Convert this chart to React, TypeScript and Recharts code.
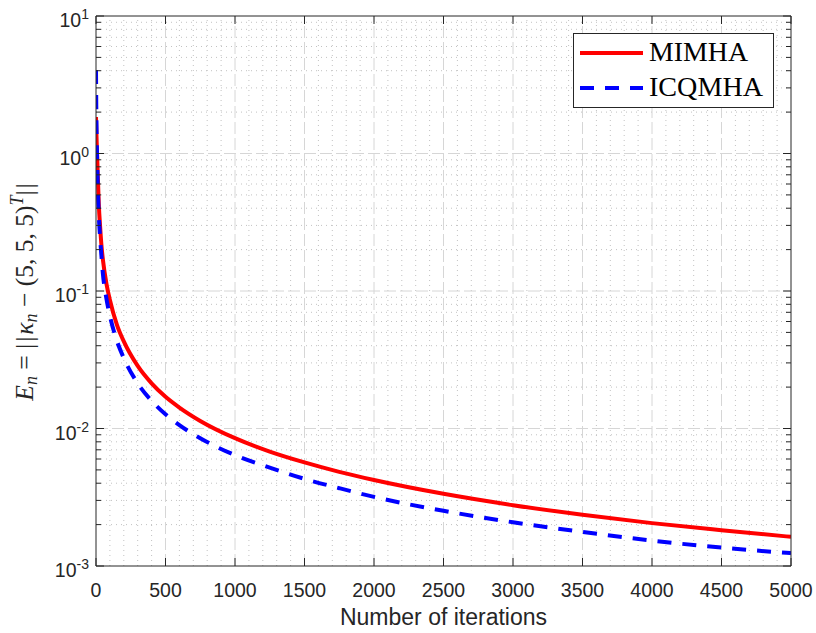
import React from 'react';
import { LineChart, Line, XAxis, YAxis, ReferenceLine, Legend, Label } from 'recharts';

// ---- data ----
const iterations = [0, 1, 2, 5, 10, 20, 30, 40, 50, 75, 100, 150, 200, 300, 400, 500, 600, 750, 1000, 1250, 1500, 1750, 2000, 2500, 3000, 3500, 4000, 4500, 5000];
const mimha = [1.84, 1.65, 1.5, 1.2, 0.85, 0.43, 0.29, 0.21, 0.168, 0.113, 0.086, 0.057, 0.043, 0.0285, 0.0213, 0.017, 0.0142, 0.01135, 0.0085, 0.0068, 0.00567, 0.00484, 0.00422, 0.00335, 0.00277, 0.00236, 0.00205, 0.00182, 0.00163];
const icqmha = [4.05, 2.9, 2.2, 1.3, 0.75, 0.36, 0.24, 0.175, 0.132, 0.088, 0.066, 0.0435, 0.0325, 0.0213, 0.0159, 0.0127, 0.0106, 0.0085, 0.0064, 0.0052, 0.0043, 0.00368, 0.00318, 0.00252, 0.00208, 0.00177, 0.00153, 0.00136, 0.00124];

const xTicks = [0, 500, 1000, 1500, 2000, 2500, 3000, 3500, 4000, 4500, 5000];
const yMajorTicks = [0.001, 0.01, 0.1, 1, 10];
const yMantissas = [2, 3, 4, 5, 6, 7, 8, 9];
const xMinorStep = 100;

const seriesNames = ['MIMHA', 'ICQMHA'];
const seriesKeys = ['mimha', 'icqmha'];
const seriesColors = ['#ff0000', '#0000ff'];
const seriesDash = [undefined, '14 11'];

// ---- derived tables ----
const data = iterations.map((it, i) => ({ it, mimha: mimha[i], icqmha: icqmha[i] }));
const yMinorTicks = yMajorTicks.slice(0, -1).flatMap((d) => yMantissas.map((m) => +(m * d).toPrecision(3)));
const yAllTicks = [...yMajorTicks, ...yMinorTicks].sort((a, b) => a - b);
const xMinorTicks = Array.from({ length: 5000 / xMinorStep + 1 }, (_, i) => i * xMinorStep).filter((v) => v % 500 !== 0);
const xMajorInner = xTicks.slice(1, -1);
const yMajorInner = yMajorTicks.slice(1, -1);

const AXIS = '#262626';
const SANS = "'Liberation Sans', Arial, Helvetica, sans-serif";
const SERIF = "'Liberation Serif', 'Times New Roman', serif";

const isMajor = (v: number) => {
  const l = Math.log10(v);
  return Math.abs(l - Math.round(l)) < 1e-6;
};

const LeftTick = (props: any) => {
  const { x, y, payload } = props;
  const v = payload.value;
  const major = isMajor(v);
  const exp = Math.round(Math.log10(v));
  return (
    <g>
      <line x1={x} x2={x + (major ? 8 : 5)} y1={y} y2={y} stroke={AXIS} strokeWidth={1} />
      {major && (
        <text x={x - 7} y={y + 11} textAnchor="end" fontFamily={SANS} fontSize={19.5} fill={AXIS}>
          10
          <tspan dy={-8} fontSize={14}>{exp}</tspan>
        </text>
      )}
    </g>
  );
};

const RightTick = (props: any) => {
  const { x, y, payload } = props;
  const major = isMajor(payload.value);
  return <line x1={x} x2={x - (major ? 8 : 5)} y1={y} y2={y} stroke={AXIS} strokeWidth={1} />;
};

const BottomTick = (props: any) => {
  const { x, y, payload } = props;
  return (
    <g>
      <line x1={x} x2={x} y1={y} y2={y - 8} stroke={AXIS} strokeWidth={1} />
      <text x={x} y={y + 31} textAnchor="middle" fontFamily={SANS} fontSize={19.5} fill={AXIS}>
        {payload.value}
      </text>
    </g>
  );
};

const TopTick = (props: any) => {
  const { x, y } = props;
  return <line x1={x} x2={x} y1={y} y2={y + 8} stroke={AXIS} strokeWidth={1} />;
};

const YLabel = (props: any) => {
  const vb = props.viewBox || { x: 95, y: 16, width: 1, height: 550 };
  const cx = vb.x + vb.width - 63;
  const cy = vb.y + vb.height / 2;
  return (
    <text transform={`rotate(-90 ${cx} ${cy})`} x={cx} y={cy} textAnchor="middle" fontFamily={SERIF} fontSize={25.5} fill={AXIS}>
      <tspan fontStyle="italic">E</tspan>
      <tspan fontStyle="italic" fontSize={18} dy={4}>n</tspan>
      <tspan dy={-4}>{' = '}</tspan>
      <tspan letterSpacing={2}>||</tspan>
      <tspan fontStyle="italic">κ</tspan>
      <tspan fontStyle="italic" fontSize={18} dy={4}>n</tspan>
      <tspan dy={-4}>{' − (5, 5, 5)'}</tspan>
      <tspan fontStyle="italic" fontSize={18} dy={-10}>T</tspan>
      <tspan dy={10} letterSpacing={2}>||</tspan>
    </text>
  );
};

const XLabel = (props: any) => {
  const vb = props.viewBox || { x: 96, y: 566, width: 695, height: 1 };
  return (
    <text x={vb.x + vb.width / 2} y={vb.y + 59} textAnchor="middle" fontFamily={SANS} fontSize={23} fill={AXIS}>
      Number of iterations
    </text>
  );
};

const LegendBox = () => (
  <div style={{ width: 201, height: 75, boxSizing: 'border-box', border: `1px solid ${AXIS}`, background: '#fff' }}>
    <svg width={199} height={73} style={{ display: 'block' }}>
      {seriesNames.map((name, i) => (
        <g key={name}>
          <line x1={6} x2={69} y1={19 + i * 35} y2={19 + i * 35} stroke={seriesColors[i]} strokeWidth={4} strokeDasharray={seriesDash[i]} />
          <text x={75} y={27 + i * 35} fontFamily={SERIF} fontSize={27} fill="#000" textLength={i === 0 ? 99 : 114} lengthAdjust="spacingAndGlyphs">
            {name}
          </text>
        </g>
      ))}
    </svg>
  </div>
);

export default function App() {
  return (
    <div style={{ position: 'absolute', left: 0, top: 0, width: 816, height: 633, background: '#fff' }}>
      <LineChart width={816} height={633} data={data} margin={{ top: 15, right: 24, bottom: 66, left: 95 }}>
        <XAxis dataKey="it" type="number" domain={[0, 5000]} ticks={xTicks} interval={0} tick={BottomTick} tickLine={false} tickSize={0} tickMargin={0} height={1} axisLine={{ stroke: AXIS, strokeWidth: 1 }} allowDataOverflow>
          <Label content={XLabel} />
        </XAxis>
        <XAxis xAxisId="top" orientation="top" dataKey="it" type="number" domain={[0, 5000]} ticks={xTicks} interval={0} tick={TopTick} tickLine={false} tickSize={0} tickMargin={0} height={1} axisLine={{ stroke: AXIS, strokeWidth: 1 }} allowDataOverflow />
        <YAxis yAxisId="left" type="number" scale="log" domain={[0.001, 10]} ticks={yAllTicks} interval={0} tick={LeftTick} tickLine={false} tickSize={0} tickMargin={0} width={1} axisLine={{ stroke: AXIS, strokeWidth: 1 }} allowDataOverflow>
          <Label content={YLabel} />
        </YAxis>
        <YAxis yAxisId="right" orientation="right" type="number" scale="log" domain={[0.001, 10]} ticks={yAllTicks} interval={0} tick={RightTick} tickLine={false} tickSize={0} tickMargin={0} width={1} axisLine={{ stroke: AXIS, strokeWidth: 1 }} allowDataOverflow />

        {xMinorTicks.map((v) => (
          <ReferenceLine key={'xm' + v} x={v} yAxisId="left" stroke="#c2c2c2" strokeWidth={1} strokeDasharray="1 4" />
        ))}
        {yMinorTicks.map((v) => (
          <ReferenceLine key={'ym' + v} y={v} yAxisId="left" stroke="#c2c2c2" strokeWidth={1} strokeDasharray="1 4" />
        ))}
        {xMajorInner.map((v) => (
          <ReferenceLine key={'xM' + v} x={v} yAxisId="left" stroke="#d6d6d6" strokeWidth={1} strokeDasharray="12 4" />
        ))}
        {yMajorInner.map((v) => (
          <ReferenceLine key={'yM' + v} y={v} yAxisId="left" stroke="#d6d6d6" strokeWidth={1} strokeDasharray="12 4" />
        ))}

        {seriesKeys.map((k, i) => (
          <Line key={k} yAxisId="left" dataKey={k} name={seriesNames[i]} type="monotone" stroke={seriesColors[i]} strokeWidth={4} strokeDasharray={seriesDash[i]} dot={false} activeDot={false} isAnimationActive={false} />
        ))}

        <Legend layout="vertical" align="center" verticalAlign="middle" content={LegendBox} wrapperStyle={{ left: 573, top: 33, width: 201, height: 75 }} />
      </LineChart>
    </div>
  );
}
